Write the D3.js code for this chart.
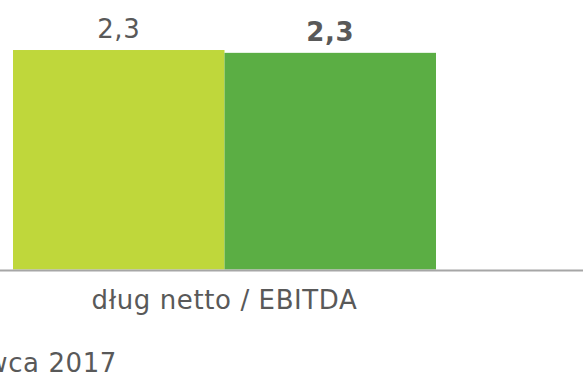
<!DOCTYPE html>
<html>
<head>
<meta charset="utf-8">
<script src="https://cdn.jsdelivr.net/npm/d3@7"></script>
<style>
  html, body { margin: 0; padding: 0; background: #fff; }
  svg { display: block; }
  text { font-family: Verdana, "DejaVu Sans", sans-serif; fill: #595959; letter-spacing: 0.6px; }
</style>
</head>
<body>
<svg id="chart" width="583" height="375"></svg>
<script>
// Net debt / EBITDA ratio at two reporting dates
const categories = ["dług netto / EBITDA"];
const seriesNames = ["31 grudnia 2016", "30 czerwca 2017"];
const seriesValues = [[2.33], [2.30]];
const seriesColors = ["#bfd73b", "#5bae44"];
const seriesBold = [false, true];

const W = 583, H = 375;
const svg = d3.select("#chart");

const baseY = 269.5;
const x0 = d3.scaleBand().domain(categories).range([13, 436]).padding(0);
const x1 = d3.scaleBand().domain(d3.range(seriesNames.length)).range([0, x0.bandwidth()]).padding(0);
const y = d3.scaleLinear().domain([0, 2.5]).range([baseY, baseY - 2.5 * 94.2]);

const fmt = v => d3.format(".1f")(v).replace(".", ",");

const groups = svg.selectAll("g.cat")
  .data(categories)
  .join("g")
  .attr("class", "cat")
  .attr("transform", d => `translate(${x0(d)},0)`);

groups.each(function(cat, ci) {
  const g = d3.select(this);
  seriesNames.forEach((s, si) => {
    const v = seriesValues[si][ci];
    g.append("rect")
      .attr("x", x1(si))
      .attr("y", y(v))
      .attr("width", x1.bandwidth())
      .attr("height", y(0) - y(v))
      .attr("fill", seriesColors[si]);
    g.append("text")
      .attr("x", x1(si) + x1.bandwidth() / 2)
      .attr("y", y(v) - 12)
      .attr("text-anchor", "middle")
      .style("font-size", "26px")
      .style("font-weight", seriesBold[si] ? "bold" : "normal")
      .text(fmt(v));
  });
});

// baseline axis across the full width
svg.append("line")
  .attr("x1", 0).attr("x2", W)
  .attr("y1", baseY + 1).attr("y2", baseY + 1)
  .attr("stroke", "#a6a6a6")
  .attr("stroke-width", 2);

// category label
svg.selectAll("text.cat-label")
  .data(categories)
  .join("text")
  .attr("class", "cat-label")
  .attr("x", d => x0(d) + x0.bandwidth() / 2)
  .attr("y", 309)
  .attr("text-anchor", "middle")
  .style("font-size", "26px")
  .text(d => d);

// legend entry (partly outside the left edge)
svg.append("text")
  .attr("x", 117)
  .attr("y", 372)
  .attr("text-anchor", "end")
  .style("font-size", "26px")
  .text(seriesNames[1]);
</script>
</body>
</html>
